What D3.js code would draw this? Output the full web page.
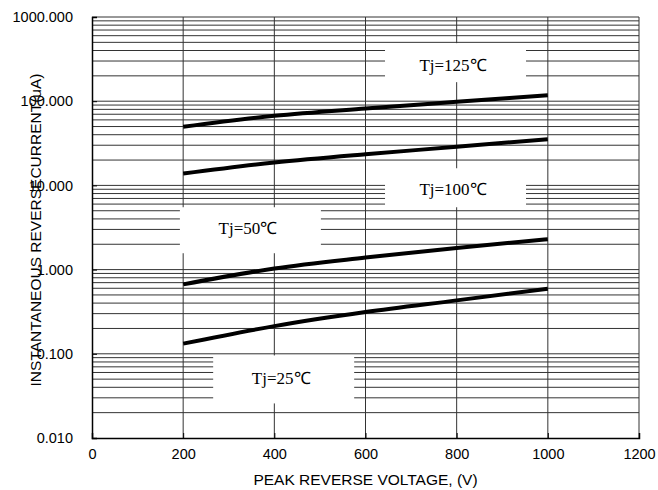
<!DOCTYPE html>
<html>
<head>
<meta charset="utf-8">
<script src="https://cdn.jsdelivr.net/npm/d3@7"></script>
<style>
  body { margin: 0; background: #fff; }
  text { font-family: Arial, "Liberation Sans", sans-serif; fill: #000; }
  .tj { font-family: "Times New Roman", "Liberation Serif", serif; }
</style>
</head>
<body>
<div id="chart"></div>
<script>
// Voltage points (V) and current (uA)
const voltages = [200, 400, 600, 800, 1000];
const tj125 = [49.6, 67, 82, 98.4, 118];
const tj100 = [13.8, 18.7, 23.5, 28.7, 35.4];
const tj50 = [0.668, 1.03, 1.39, 1.81, 2.29];
const tj25 = [0.132, 0.213, 0.313, 0.431, 0.594];

const xTicks = [0, 200, 400, 600, 800, 1000, 1200];
const yTicks = [0.01, 0.1, 1, 10, 100, 1000];
const curveLabels = ['Tj=125℃', 'Tj=100℃', 'Tj=50℃', 'Tj=25℃'];

const width = 658;
const height = 490;
const margin = { top: 17, right: 19, bottom: 52, left: 92 };

const svg = d3.select('#chart').append('svg')
  .attr('width', width)
  .attr('height', height);

const x = d3.scaleLinear()
  .domain([0, 1200])
  .range([margin.left, width - margin.right]);

const y = d3.scaleLog()
  .domain([0.01, 1000])
  .range([height - margin.bottom, margin.top]);

// Horizontal grid: 2..9 in every decade plus the decade lines
const minor = [];
yTicks.slice(0, -1).forEach(d => {
  for (let k = 2; k <= 9; k++) minor.push(k * d);
});
svg.append('g')
  .selectAll('line')
  .data(minor.concat(yTicks.slice(1)))
  .join('line')
  .attr('x1', x(0))
  .attr('x2', x(1200))
  .attr('y1', d => y(d))
  .attr('y2', d => y(d))
  .attr('stroke', '#333')
  .attr('stroke-width', 1);

// Vertical grid
svg.append('g')
  .selectAll('line')
  .data(xTicks.slice(1))
  .join('line')
  .attr('x1', d => x(d))
  .attr('x2', d => x(d))
  .attr('y1', y(1000))
  .attr('y2', y(0.01))
  .attr('stroke', '#333')
  .attr('stroke-width', 1);

// White label boxes that cover the grid
const labelPos = [
  { x: 792, y: 268, top: 22, bottom: 17 },
  { x: 792, y: 9.0, top: 21, bottom: 18 },
  { x: 342, y: 3.1, top: 21, bottom: 25 },
  { x: 415, y: 0.051, top: 23, bottom: 25 }
];
const labels = svg.append('g');
curveLabels.forEach((t, i) => {
  const p = labelPos[i];
  const cx = x(p.x);
  const cy = y(p.y);
  labels.append('rect')
    .attr('x', cx - 68)
    .attr('y', cy - p.top)
    .attr('width', 141)
    .attr('height', p.top + p.bottom)
    .attr('fill', '#fff');
  labels.append('text')
    .attr('class', 'tj')
    .attr('x', cx)
    .attr('y', cy + 6)
    .attr('text-anchor', 'middle')
    .attr('font-size', 17)
    .text(t);
});

// Axes
const yAxis = svg.append('g')
  .attr('transform', `translate(${margin.left},0)`)
  .call(d3.axisLeft(y).tickValues(yTicks).tickSize(-5).tickPadding(19)
    .tickFormat(d3.format('.3f')));
const xAxis = svg.append('g')
  .attr('transform', `translate(0,${height - margin.bottom})`)
  .call(d3.axisBottom(x).tickValues(xTicks).tickSize(-5).tickPadding(11)
    .tickFormat(d3.format('d')));

[yAxis, xAxis].forEach(a => {
  a.select('.domain').attr('stroke', '#000').attr('stroke-width', 1.5);
  a.selectAll('.tick line').attr('stroke', '#000');
  a.selectAll('.tick text')
    .attr('font-family', 'Arial, "Liberation Sans", sans-serif')
    .attr('font-size', 14.5)
    .attr('fill', '#000');
});

// Curves
const line = d3.line()
  .x((d, i) => x(voltages[i]))
  .y(d => y(d))
  .curve(d3.curveMonotoneX);

svg.append('g')
  .selectAll('path')
  .data([tj125, tj100, tj50, tj25])
  .join('path')
  .attr('fill', 'none')
  .attr('stroke', '#000')
  .attr('stroke-width', 4)
  .attr('d', line);

// Axis titles
svg.append('text')
  .attr('x', x(600))
  .attr('y', 485)
  .attr('text-anchor', 'middle')
  .attr('font-size', 15.5)
  .text('PEAK REVERSE VOLTAGE, (V)');

svg.append('text')
  .attr('transform', 'translate(41,230) rotate(-90)')
  .attr('text-anchor', 'middle')
  .attr('font-size', 15.5)
  .text('INSTANTANEOUS REVERSECURRENT(uA)');
</script>
</body>
</html>
